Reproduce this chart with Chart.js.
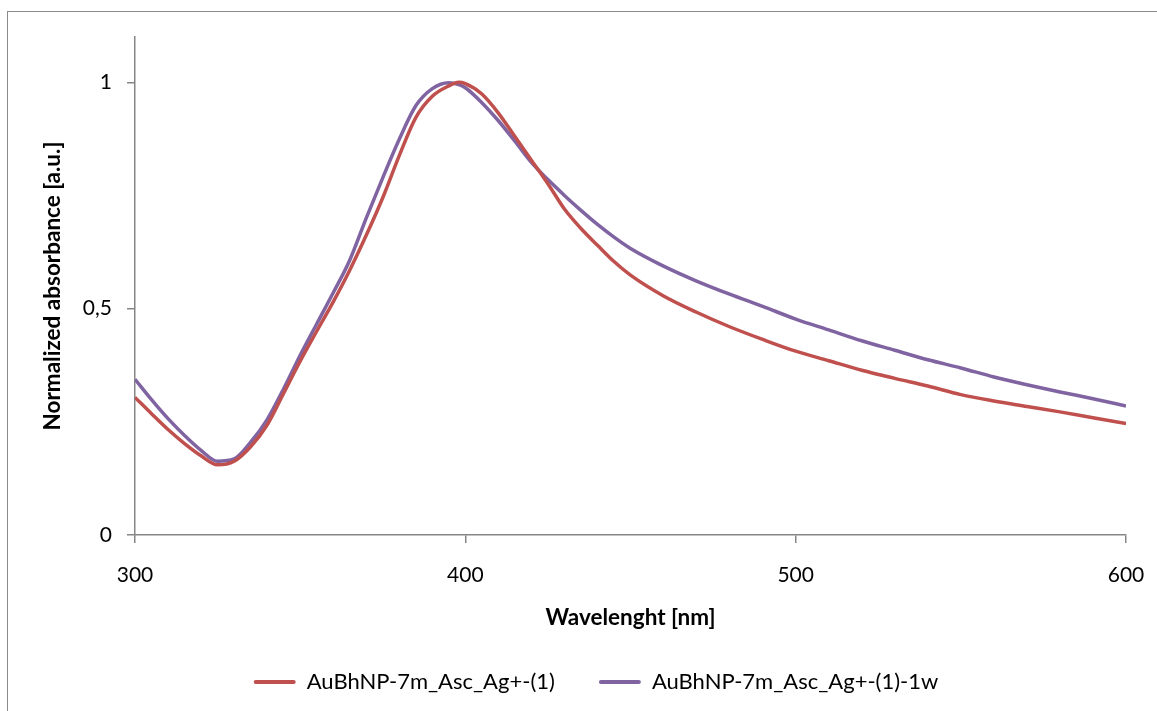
<!DOCTYPE html>
<html>
<head>
<meta charset="utf-8">
<script src="https://cdn.jsdelivr.net/npm/chart.js@4.4.1/dist/chart.umd.min.js"></script>
<style>
  html, body { margin: 0; padding: 0; background: #ffffff; }
  #wrap { position: relative; width: 1157px; height: 711px; overflow: hidden; }
  #frame { position: absolute; left: 7px; top: 11px; width: 1160px; height: 720px; border: 1.5px solid #8a8a8a; box-sizing: border-box; }
  canvas { position: absolute; left: 0; top: 0; }
</style>
</head>
<body>
<div id="wrap">
  <div id="frame"></div>
  <canvas id="c" width="1157" height="711"></canvas>
</div>
<script>
const wavelengths = [300,305,310,315,320,325,330,335,340,345,350,355,360,365,370,375,380,385,390,395,398,400,405,410,415,420,425,430,435,440,445,450,460,470,480,490,500,510,520,530,540,550,560,570,580,590,600];
const seriesAsc = [0.304,0.268,0.233,0.202,0.175,0.155,0.163,0.195,0.243,0.313,0.384,0.450,0.515,0.585,0.662,0.745,0.838,0.922,0.969,0.992,1.000,0.997,0.974,0.932,0.880,0.828,0.776,0.720,0.677,0.640,0.604,0.574,0.528,0.492,0.460,0.432,0.406,0.385,0.364,0.346,0.329,0.310,0.296,0.284,0.272,0.259,0.246];
const seriesAsc1w = [0.344,0.299,0.257,0.220,0.187,0.163,0.168,0.205,0.255,0.323,0.397,0.466,0.535,0.607,0.700,0.789,0.874,0.948,0.986,0.999,0.995,0.988,0.955,0.915,0.870,0.823,0.785,0.750,0.717,0.686,0.658,0.633,0.594,0.561,0.532,0.505,0.477,0.453,0.429,0.408,0.387,0.369,0.349,0.332,0.316,0.301,0.285];
const seriesNames = ['AuBhNP-7m_Asc_Ag+-(1)', 'AuBhNP-7m_Asc_Ag+-(1)-1w'];
const xTicks = [300, 400, 500, 600];
const yTicks = [0, 0.5, 1];
const yTickLabels = ['0', '0,5', '1'];
const xTitle = 'Wavelenght [nm]';
const yTitle = 'Normalized absorbance [a.u.]';

const FONT = "Lato, 'Open Sans', 'Liberation Sans', sans-serif";
const AXIS = '#868686';

function pts(ys) { return wavelengths.map((w, i) => ({ x: w, y: ys[i] })); }

const legendShift = {
  id: 'legendShift',
  afterLayout(chart) {
    if (chart.legend) { chart.legend.left += 33; chart.legend.right += 33; }
  }
};

new Chart(document.getElementById('c'), {
  type: 'line',
  data: {
    datasets: [
      { label: seriesNames[0], data: pts(seriesAsc), borderColor: '#C0504D', backgroundColor: '#C0504D', borderWidth: 3.5, pointRadius: 0, cubicInterpolationMode: 'monotone', fill: false },
      { label: seriesNames[1], data: pts(seriesAsc1w), borderColor: '#8064A2', backgroundColor: '#8064A2', borderWidth: 3.5, pointRadius: 0, cubicInterpolationMode: 'monotone', fill: false }
    ]
  },
  plugins: [legendShift],
  options: {
    responsive: false,
    animation: false,
    devicePixelRatio: 1,
    layout: { padding: { left: 0, top: 37, right: 31, bottom: 8 } },
    plugins: {
      tooltip: { enabled: false },
      legend: {
        position: 'bottom',
        fullSize: true,
        labels: {
          color: '#000',
          font: { family: FONT, size: 22 },
          boxWidth: 42,
          boxHeight: 4,
          padding: 44,
          useBorderRadius: true,
          borderRadius: 2,
          generateLabels(chart) {
            const items = Chart.defaults.plugins.legend.labels.generateLabels(chart);
            items.forEach(it => { it.lineWidth = 0; it.borderRadius = 2; });
            return items;
          }
        }
      }
    },
    scales: {
      x: {
        type: 'linear',
        min: 300, max: 600,
        afterBuildTicks(scale) { scale.ticks = xTicks.map(v => ({ value: v })); },
        afterFit(scale) { scale.height = 92; scale.paddingLeft = 0; scale.paddingRight = 0; },
        ticks: { color: '#000', font: { family: FONT, size: 21 }, padding: 20, maxRotation: 0, callback: v => String(v) },
        grid: { display: true, drawOnChartArea: false, drawTicks: true, tickLength: 8, color: AXIS, lineWidth: 1.5 },
        border: { display: true, color: AXIS, width: 1.5 },
        title: { display: true, text: xTitle, color: '#000', font: { family: FONT, size: 22.5, weight: 'bold' }, padding: { top: 0, bottom: -4.5 } }
      },
      y: {
        type: 'linear',
        min: 0, max: 1.1,
        afterBuildTicks(scale) { scale.ticks = yTicks.map(v => ({ value: v })); },
        afterFit(scale) { scale.width = 135; scale.paddingTop = 0; scale.paddingBottom = 0; },
        ticks: { color: '#000', font: { family: FONT, size: 21 }, padding: 15, callback: (v) => { const i = yTicks.indexOf(v); return i >= 0 ? yTickLabels[i] : ''; } },
        grid: { display: true, drawOnChartArea: false, drawTicks: true, tickLength: 8, color: AXIS, lineWidth: 1.5 },
        border: { display: true, color: AXIS, width: 1.5 },
        title: { display: true, text: yTitle, color: '#000', font: { family: FONT, size: 22.5, weight: 'bold' }, padding: { top: 39.5, bottom: 0 } }
      }
    }
  }
});
</script>
</body>
</html>
